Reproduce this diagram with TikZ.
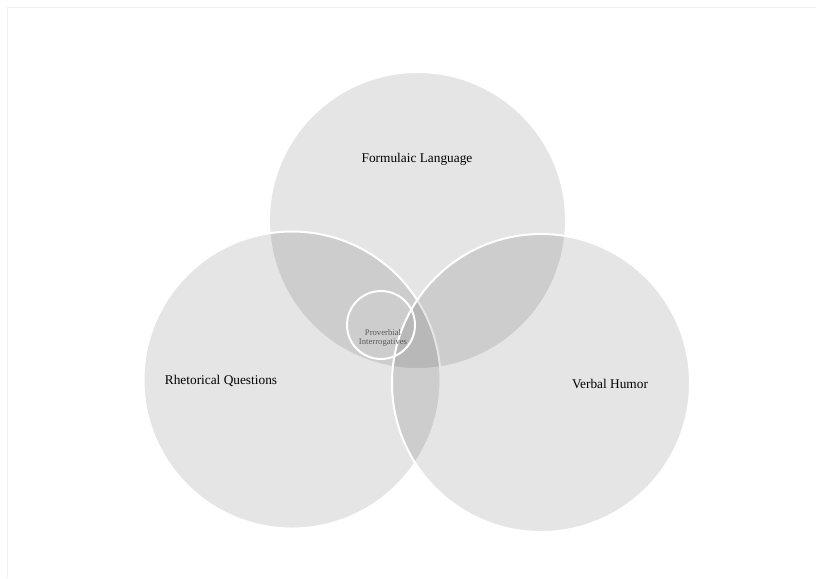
\documentclass[tikz,border=0pt]{standalone}
\usepackage{fontspec}
\setmainfont{Liberation Serif}
\begin{document}
\begin{tikzpicture}[x=0.75pt,y=-0.75pt,
  venn/.style={circle,draw=white,line width=1.5pt,fill=black,fill opacity=0.1,draw opacity=1,inner sep=0pt},
  lab/.style={font=\fontsize{10pt}{12pt}\selectfont,text=black},
  small/.style={font=\fontsize{6.5pt}{7pt}\selectfont,text=black!65,align=center,inner sep=0pt}]
\useasboundingbox (0,0) rectangle (816,578);
\fill[white] (0,0) rectangle (816,578);
\coordinate (f1) at (7,578);
\coordinate (f2) at (7,7);
\coordinate (f3) at (816,7);
\draw[black!6,line width=0.75pt] (f1) -- (f2) -- (f3);
\node[venn,minimum size=297*0.75pt] (top) at (417.5,220.5) {};
\node[venn,minimum size=297*0.75pt] (left) at (292,380) {};
\node[venn,minimum size=298*0.75pt] (right) at (541,383) {};
\node[circle,draw=white,line width=1.5pt,minimum size=68*0.75pt,inner sep=0pt] (core) at (381,325) {};
\node[lab] (tl) at (417,159) {Formulaic Language};
\node[lab] (ll) at (221,381) {Rhetorical Questions};
\node[lab] (rl) at (610,384) {Verbal Humor};
\node[small] (cl) at (383,338) {Proverbial\\Interrogatives};
\end{tikzpicture}
\end{document}
